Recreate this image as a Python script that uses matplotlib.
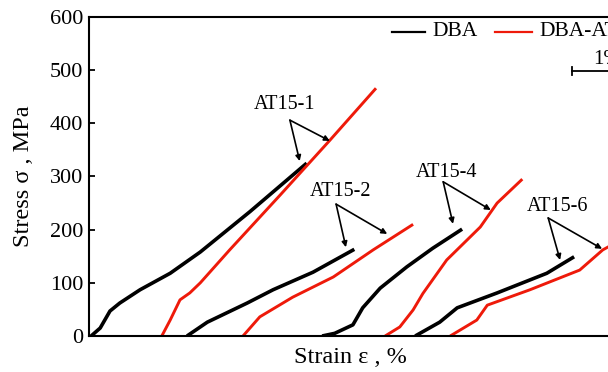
import numpy as np
import matplotlib
matplotlib.use("Agg")
import matplotlib.pyplot as plt

plt.rcParams['font.family'] = ['Liberation Serif', 'DejaVu Serif']

# strain in %, stress in MPa (curves shifted along the strain axis)
dba1_x = [0.03, 0.16, 0.30, 0.44, 0.73, 1.16, 1.59, 2.30, 3.11]
dba1_y = [0, 15, 47, 62, 87, 118, 158, 234, 325]
at1_x = [1.04, 1.16, 1.30, 1.44, 1.59, 2.01, 2.73, 3.44, 4.10]
at1_y = [0, 30, 68, 81, 100, 162, 265, 368, 466]

dba2_x = [1.40, 1.69, 2.26, 2.63, 3.20, 3.79]
dba2_y = [0, 26, 62, 87, 120, 163]
at2_x = [2.20, 2.44, 2.91, 3.49, 4.06, 4.63]
at2_y = [0, 36, 73, 111, 162, 210]

dba4_x = [3.33, 3.51, 3.77, 3.91, 4.16, 4.54, 4.91, 5.33]
dba4_y = [0, 5, 21, 53, 90, 130, 165, 201]
at4_x = [4.23, 4.44, 4.63, 4.77, 5.11, 5.59, 5.83, 6.19]
at4_y = [0, 17, 49, 80, 143, 205, 250, 295]

dba6_x = [4.66, 5.01, 5.26, 5.83, 6.54, 6.93]
dba6_y = [0, 26, 53, 81, 118, 149]
at6_x = [5.16, 5.54, 5.69, 6.30, 7.01, 7.34, 7.66]
at6_y = [0, 30, 58, 87, 124, 162, 185]

labels = ["AT15-1", "AT15-2", "AT15-4", "AT15-6"]
label_pos = [(2.80, 436), (3.60, 271), (5.11, 307), (6.69, 243)]
apex = [(2.87, 406), (3.53, 248), (5.06, 290), (6.56, 222)]
targets = [[(3.01, 329), (3.44, 367)],
           [(3.67, 167), (4.26, 192)],
           [(5.20, 211), (5.74, 237)],
           [(6.73, 143), (7.33, 164)]]

fig = plt.figure(figsize=(6.08, 3.72), dpi=100)
ax = fig.add_axes([89/608, 36/372, 574/608, 319/372])

for xs, ys in [(dba1_x, dba1_y), (dba2_x, dba2_y), (dba4_x, dba4_y), (dba6_x, dba6_y)]:
    ax.plot(xs, ys, color="black", lw=2.6, solid_capstyle="butt", solid_joinstyle="round")
for xs, ys in [(at1_x, at1_y), (at2_x, at2_y), (at4_x, at4_y), (at6_x, at6_y)]:
    ax.plot(xs, ys, color="#ee1a0a", lw=2.1, solid_capstyle="butt", solid_joinstyle="round")

for lab, pos, ap, tg in zip(labels, label_pos, apex, targets):
    ax.text(pos[0], pos[1], lab, fontsize=14.5, ha="center", va="center")
    for t in tg:
        ax.annotate("", xy=t, xytext=ap,
                    arrowprops=dict(arrowstyle="-|>", color="black", lw=1.2,
                                    mutation_scale=8, shrinkA=0, shrinkB=0))

# legend drawn by hand
ax.plot([4.33, 4.80], [572, 572], color="black", lw=1.6)
ax.text(4.90, 572, "DBA", fontsize=15.5, va="center")
ax.plot([5.80, 6.33], [572, 572], color="#ee1a0a", lw=1.6)
ax.text(6.43, 572, "DBA-AT15", fontsize=15.5, va="center")

# 1% scale bar
ax.plot([6.90, 7.90], [498, 498], color="black", lw=1.3)
ax.plot([6.90, 6.90], [490, 506], color="black", lw=1.3)
ax.text(7.40, 503, "1%", fontsize=15, ha="center", va="bottom")

ax.set_xlim(0, 8.2)
ax.set_ylim(0, 600)
ax.set_yticks(np.arange(0, 601, 100))
ax.set_xticks([])
ax.tick_params(axis="y", direction="in", length=4, width=1.3, labelsize=16, pad=4)
for s in ax.spines.values():
    s.set_linewidth(1.5)

ax.set_xlabel("Strain ε , %", fontsize=17.5)
ax.xaxis.set_label_coords(0.455, -0.035)
ax.xaxis.label.set_va("top")
ax.set_ylabel("Stress σ , MPa", fontsize=17.5)
ax.yaxis.set_label_coords(-0.095, 0.5)

fig.savefig("out.png", dpi=100)
